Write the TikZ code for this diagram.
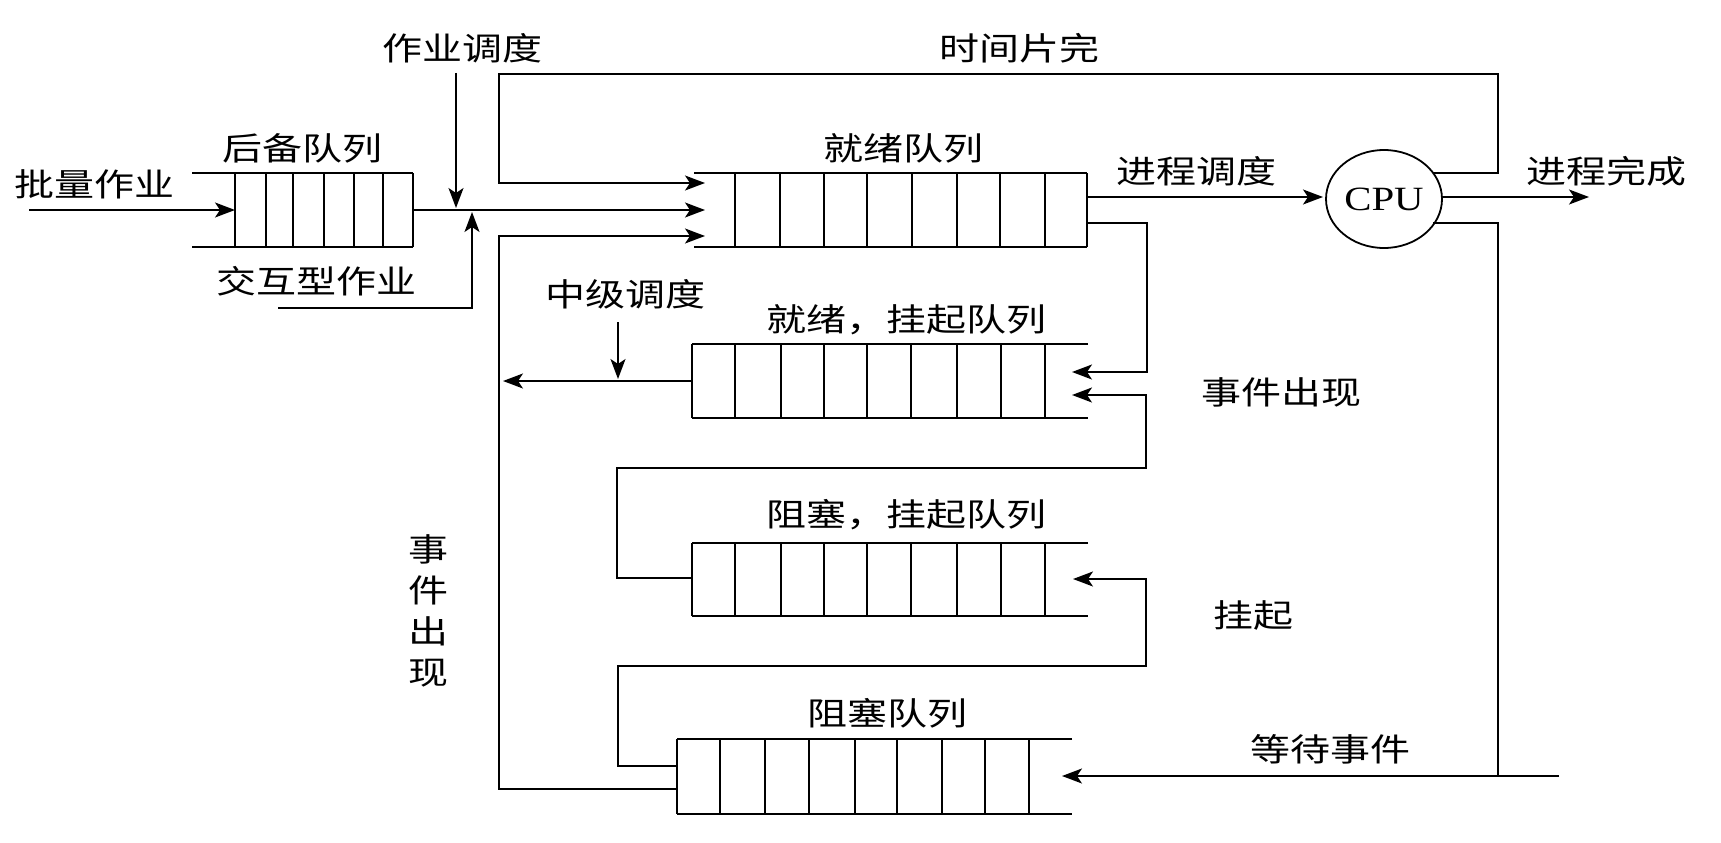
\documentclass[tikz,border=0pt]{standalone}
\usepackage{fontspec}
\setmainfont{Liberation Serif}
\newfontfamily\cjk[FakeStretch=1.25]{Noto Sans CJK SC}
\usetikzlibrary{arrows.meta,shapes.geometric}
\begin{document}
\begin{tikzpicture}[x=1pt,y=-1pt,line width=1.8pt,
  lbl/.style={font=\cjk\fontsize{32}{36}\selectfont,inner sep=0pt},
  arr/.style={-{Stealth[length=20pt,width=15pt,inset=5pt]}},
  slot/.style={inner sep=0pt,outer sep=0pt,minimum height=74pt},
  div/.style={line width=2.5pt}
]
\useasboundingbox (0,0) rectangle (1721,843);
% ---------- queues (invisible nodes marking slot area) ----------
\node[slot,minimum width=178pt] (backup) at (324,210) {};
\node[slot,minimum width=352pt] (ready) at (911,210) {};
\node[slot,minimum width=396pt] (rsusp) at (890,381) {};
\node[slot,minimum width=396pt] (bsusp) at (890,579.5) {};
\node[slot,minimum width=395pt] (block) at (874.5,776.5) {};
% backup queue: open left, closed right
\draw (192,173) -- (413,173) (413,247) -- (192,247);
\foreach \x in {235,266,293,324,354,383,413} \draw[div] (\x,173) -- (\x,247);
% ready queue: open left, closed right
\draw (694,173) -- (1087,173) (1087,247) -- (694,247);
\foreach \x in {735,780,824,867,912,957,1000,1045,1087} \draw[div] (\x,173) -- (\x,247);
% ready-suspended queue: closed left, open right
\draw (1088,344) -- (692,344) (692,418) -- (1088,418);
\foreach \x in {692,735,781,824,867,911,957,1001,1045} \draw[div] (\x,344) -- (\x,418);
% blocked-suspended queue
\draw (1088,543) -- (692,543) (692,616) -- (1088,616);
\foreach \x in {692,735,781,824,867,911,957,1001,1045} \draw[div] (\x,543) -- (\x,616);
% blocked queue
\draw (1072,739) -- (677,739) (677,814) -- (1072,814);
\foreach \x in {677,720,765,809,855,897,942,985,1029} \draw[div] (\x,739) -- (\x,814);
% ---------- CPU ----------
\node[draw,ellipse,minimum width=116pt,minimum height=98pt,inner sep=0pt,
      font=\fontsize{34}{36}\selectfont] (cpu) at (1384,199) {\scalebox{1.2}[1]{CPU}};
% ---------- labels ----------
\node[lbl] (t1) at (94,184) {批量作业};
\node[lbl] (t2) at (302,148) {后备队列};
\node[lbl] (t3) at (316,281) {交互型作业};
\node[lbl] (t4) at (462,48) {作业调度};
\node[lbl] (t5) at (1019,48) {时间片完};
\node[lbl] (t6) at (903,148) {就绪队列};
\node[lbl] (t7) at (1196,171) {进程调度};
\node[lbl] (t8) at (1606,171) {进程完成};
\node[lbl] (t9) at (625,294) {中级调度};
\node[lbl] (t10) at (906,320) {就绪，挂起队列};
\node[lbl] (t11) at (1281,392) {事件出现};
\node[lbl] (t12) at (906,515) {阻塞，挂起队列};
\node[lbl] (t13) at (1253,615) {挂起};
\node[lbl] (t14) at (887,713) {阻塞队列};
\node[lbl] (t15) at (1330,749) {等待事件};
\node[lbl,align=center] (t16) at (428,611) {事\\[5pt]件\\[5pt]出\\[5pt]现};
% ---------- coordinates ----------
\coordinate (in0) at (29,210);
\coordinate (js0) at (456,73);
\coordinate (ia0) at (278,308);
\coordinate (ia1) at (472,308);
\coordinate (top0) at (1498,74);
\coordinate (lft) at (499,74);
\coordinate (rin1) at (705,183);
\coordinate (rin2) at (705,210);
\coordinate (rin3) at (705,236);
\coordinate (out1) at (1589,197);
\coordinate (rv) at (1147,223);
\coordinate (rs1) at (1072,372);
\coordinate (rs2) at (1072,395);
\coordinate (bs1) at (1073,579);
\coordinate (wt0) at (1559,776);
\coordinate (wt1) at (1062,776);
\coordinate (md0) at (618,322);
% ---------- connectors ----------
\draw[arr] (in0) -- (backup.west);
\draw[arr] (backup.east) -- (rin2);
\draw[arr] (js0) -- (456,208);
\draw[arr] (ia0) -- (ia1) -- (472,212);
\draw[arr] (1433,173) -- (1498,173) -- (top0) -- (lft) -- (499,183) -- (rin1);
\draw[arr] (block.west |- 0,789) -- (499,789) -- (499,236) -- (rin3);
\draw[arr] (1087,197) -- (1323,197);
\draw[arr] (1442,197) -- (out1);
\draw[arr] (1087,223) -- (rv) -- (1147,372) -- (rs1);
\draw[arr] (692,578) -- (617,578) -- (617,468) -- (1146,468) -- (1146,395) -- (rs2);
\draw[arr] (677,766) -- (618,766) -- (618,666) -- (1146,666) -- (1146,579) -- (bs1);
\draw[arr] (rsusp.west) -- (503,381);
\draw[arr] (md0) -- (618,379);
\draw (1433,223) -- (1498,223) -- (1498,776);
\draw[arr] (wt0) -- (wt1);
\end{tikzpicture}
\end{document}
